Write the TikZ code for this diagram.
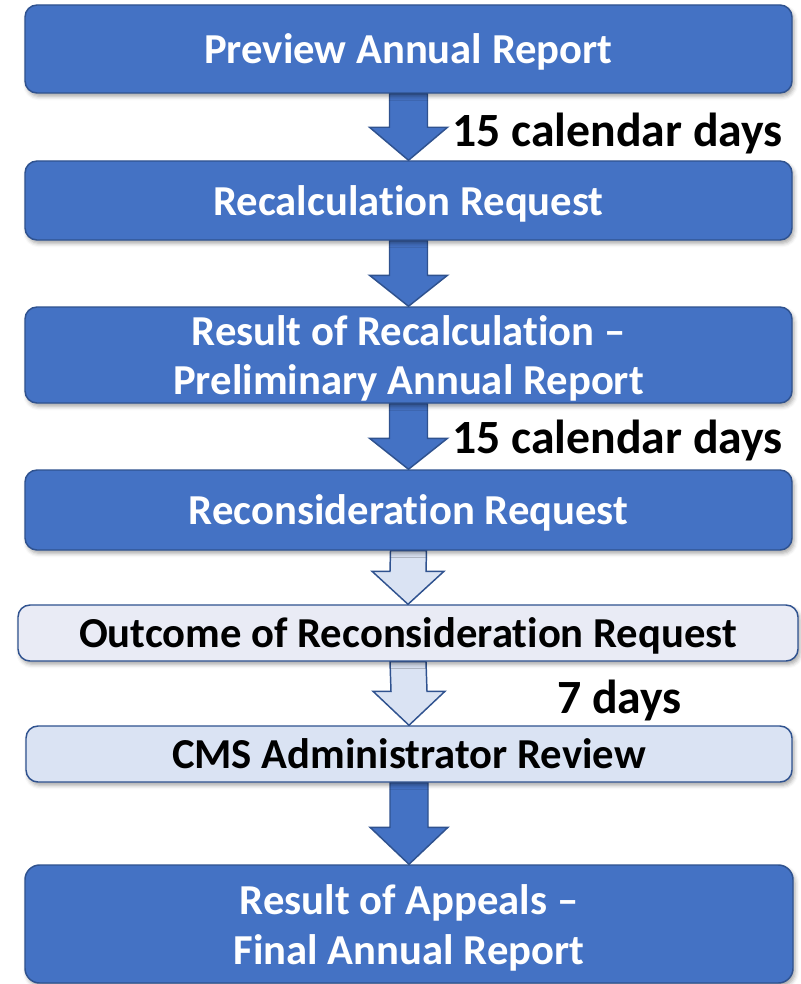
\documentclass[tikz,border=0pt]{standalone}
\usepackage{fontspec}
\setmainfont{Carlito}[Ligatures={NoCommon,NoContextual}]
\usetikzlibrary{calc,shadows.blur}
\definecolor{bluefill}{HTML}{4472C4}
\definecolor{blueline}{HTML}{2F528F}
\definecolor{lightA}{HTML}{E9EBF5}
\definecolor{lightB}{HTML}{DAE3F3}
\pgfdeclarelayer{bg}
\pgfsetlayers{bg,main}
\newcommand\blockarr[6]{%
  \draw[#1] ($(#2.south)+(-#4,0)$) -- ($(#3.north)+(-#4,-#6)$) -- ($(#3.north)+(-#5,-#6)$) -- (#3.north)
    -- ($(#3.north)+(#5,-#6)$) -- ($(#3.north)+(#4,-#6)$) -- ($(#2.south)+(#4,0)$) -- cycle;}
\tikzset{
  box/.style={draw=blueline, line width=1.1pt, rounded corners=9pt, align=center, inner sep=0pt,
    font=\fontsize{32}{36.5}\selectfont\bfseries,
    blur shadow={shadow xshift=1.5pt, shadow yshift=-2.5pt, shadow blur radius=3pt, shadow opacity=35}},
  oneline/.style={text height=21.8pt, text depth=-0.8pt},
  darkbox/.style={box, fill=bluefill, text=white},
  lightbox/.style={box, fill=#1, text=black},
  lbl/.style={font=\fontsize{35.8}{40}\selectfont\bfseries, inner sep=0pt, text=black},
  darrow/.style={draw=blueline, line width=1.1pt, fill=bluefill},
  larrow/.style={draw=blueline, line width=1.1pt, fill=lightB},
}
\begin{document}
\begin{tikzpicture}[x=0.75pt,y=-0.75pt]
\useasboundingbox (0,0) rectangle (800,984);
\node[darkbox, oneline, minimum width=575.25pt, minimum height=66pt] (b1) at (408.5,49) {Preview Annual Report};
\node[darkbox, oneline, minimum width=575.25pt, minimum height=59.25pt] (b2) at (408.5,200.5) {Recalculation Request};
\node[darkbox, text depth=0.4pt, minimum width=575.25pt, minimum height=72pt] (b3) at (408.5,355) {Result of Recalculation –\\Preliminary Annual Report};
\node[darkbox, oneline, minimum width=575.25pt, minimum height=60pt] (b4) at (408.5,510) {Reconsideration Request};
\node[lightbox=lightA, oneline, minimum width=585pt, minimum height=42pt] (b5) at (408,633) {Outcome of Reconsideration Request};
\node[lightbox=lightB, oneline, minimum width=574.5pt, minimum height=42pt] (b6) at (409,754) {CMS Administrator Review};
\node[darkbox, rounded corners=11pt, minimum width=576pt, minimum height=88.5pt, font=\fontsize{32}{37.5}\selectfont\bfseries] (b7) at (409,924) {\rule{0pt}{28.5pt}Result of Appeals –\\Final Annual Report};

\node[lbl, anchor=base east] (l1) at (783,147) {15 calendar days};
\node[lbl, anchor=base east] (l2) at (783,453) {15 calendar days};
\node[lbl, anchor=base west] (l3) at (557,713) {7 days};

\begin{pgfonlayer}{bg}
\blockarr{darrow}{b1}{b2}{19}{39}{33}
\blockarr{darrow}{b2}{b3}{19}{39}{31}
\blockarr{darrow}{b3}{b4}{19}{39}{31}
\blockarr{larrow}{b4}{b5}{18}{36}{33}
\blockarr{larrow}{b5}{b6}{18}{36}{34}
\blockarr{darrow}{b6}{b7}{19}{39}{37}
\end{pgfonlayer}
\end{tikzpicture}
\end{document}
